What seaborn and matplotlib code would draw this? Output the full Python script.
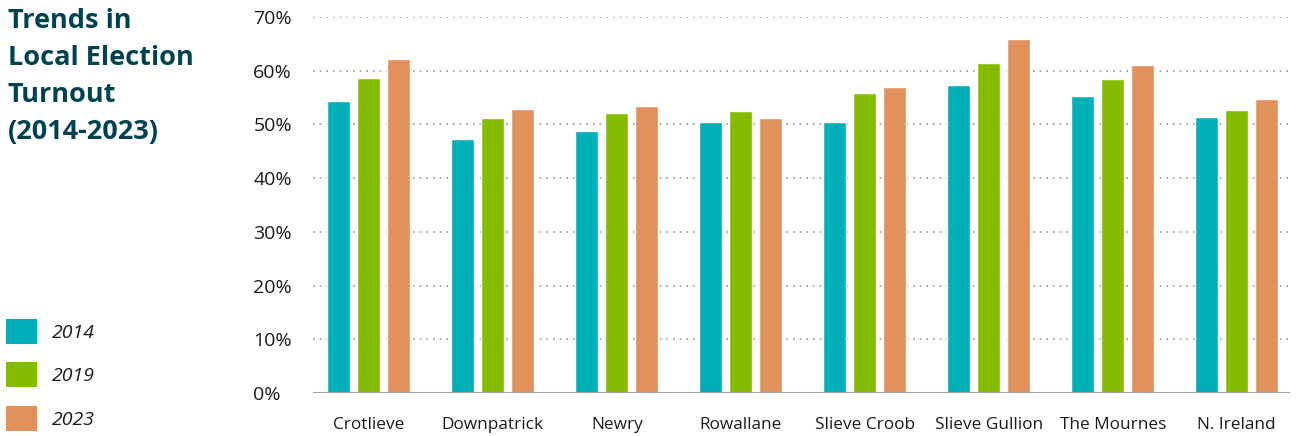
import matplotlib
matplotlib.use("Agg")
import matplotlib.pyplot as plt
import matplotlib.patches as mpatches
import seaborn as sns
import pandas as pd

# Turnout (%) by district and election year
districts = ["Crotlieve", "Downpatrick", "Newry", "Rowallane", "Slieve Croob",
             "Slieve Gullion", "The Mournes", "N. Ireland"]
years = ["2014", "2019", "2023"]
turnout_2014 = [54.3, 47.3, 48.8, 50.4, 50.4, 57.3, 55.3, 51.4]
turnout_2019 = [58.6, 51.2, 52.1, 52.5, 55.8, 61.4, 58.4, 52.7]
turnout_2023 = [62.1, 52.8, 53.4, 51.2, 57.0, 65.9, 61.1, 54.7]
y_ticks = [0, 10, 20, 30, 40, 50, 60, 70]

colors = ["#00B0B9", "#84BD00", "#E0915C"]

df = pd.DataFrame({
    "district": districts * 3,
    "year": [years[0]] * 8 + [years[1]] * 8 + [years[2]] * 8,
    "turnout": turnout_2014 + turnout_2019 + turnout_2023,
})

sns.set_style("white")
plt.rcParams["font.family"] = ["Open Sans", "DejaVu Sans"]

fig = plt.figure(figsize=(12.97, 4.36), dpi=100)
ax = fig.add_axes([313 / 1297, 1 - 393 / 436, (1290 - 313) / 1297, (393 - 17) / 436])

sns.barplot(data=df, x="district", y="turnout", hue="year", order=districts,
            hue_order=years, palette=colors, width=0.726, gap=0.235,
            saturation=1, legend=False, ax=ax)

ax.set_ylim(0, 70)
ax.set_xlim(-0.45, 7.43)
ax.set_yticks(y_ticks)
ax.set_yticklabels([f"{v}%" for v in y_ticks])
ax.set_xlabel("")
ax.set_ylabel("")

# dotted guides, solid baseline
for v in y_ticks[1:]:
    ax.axhline(v, color="#9a9a9a", lw=1.2, ls=(0, (1, 3)), zorder=0)
ax.axhline(0, color="#a0a4a8", lw=1.5, zorder=3)

for s in ax.spines.values():
    s.set_visible(False)

ax.tick_params(axis="y", length=0, pad=43, labelsize=14, labelcolor="#1a1a1a")
ax.tick_params(axis="x", length=0, pad=17, labelsize=12.4, labelcolor="#1a1a1a")
for lbl in ax.get_yticklabels():
    lbl.set_horizontalalignment("left")

fig.text(8 / 1297, 1 - 8 / 436, "Trends in\nLocal Election\nTurnout\n(2014-2023)",
         ha="left", va="top", fontsize=19.5, fontweight="bold", color="#004250",
         linespacing=1.55)

handles = [mpatches.Patch(facecolor=c, edgecolor="none") for c in colors]
leg = fig.legend(handles, years, loc="upper left",
                 bbox_to_anchor=(6 / 1297, 1 - 319 / 436), frameon=False,
                 fontsize=14, handlelength=1.6, handleheight=1.6,
                 handletextpad=0.75, labelspacing=0.95, borderpad=0,
                 borderaxespad=0)
for t in leg.get_texts():
    t.set_fontstyle("italic")
    t.set_color("#1a1a1a")

fig.savefig("out.png", dpi=100)
